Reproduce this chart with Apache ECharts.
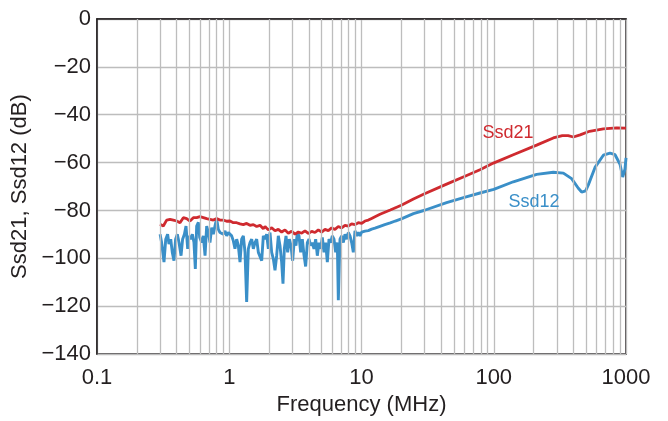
<!DOCTYPE html>
<html>
<head>
<meta charset="utf-8">
<script src="https://cdn.jsdelivr.net/npm/echarts@6/dist/echarts.min.js"></script>
<style>
html,body{margin:0;padding:0;background:#fff;}
#chart{width:668px;height:421px;}
</style>
</head>
<body>
<div id="chart"></div>
<script>
// ---- data ----
const xTickLabels = ['0.1', '1', '10', '100', '1000'];
const minorGridFreq = [0.2,0.3,0.4,0.5,0.6,0.7,0.8,0.9,2,3,4,5,6,7,8,9,20,30,40,50,60,70,80,90,200,300,400,500,600,700,800,900];

const ssd21Freq = [0.2995,0.3173,0.3363,0.3565,0.3777,0.4003,0.4242,0.4495,0.4764,0.5048,0.535,0.5669,0.6008,0.6368,0.6748,0.7151,0.7578,0.8031,0.8511,0.902,0.9559,1.013,1.074,1.138,1.206,1.278,1.354,1.435,1.521,1.612,1.708,1.81,
  1.864,1.975,2.093,2.218,2.35,2.49,2.639,2.797,2.964,3.141,3.329,3.528,3.738,3.962,4.199,4.449,4.715,4.997,5.296,5.612,5.947,6.303,6.679,7.078,7.501,7.949,8.424,8.927,9.461,10.03,10.62,11.26,11.93,12.65,
  13.8,16.5,20,24.7,30,44,60,78.7,99.4,140.6,211,282,330,365,400,450,530,674,850,1000];
const ssd21Val = [-85.8,-86.5,-84.0,-83.7,-84.0,-84.4,-85.1,-83.0,-83.4,-84.4,-83.0,-83.0,-82.6,-83.0,-83.4,-83.7,-84.0,-83.4,-84.0,-84.0,-84.5,-84.4,-85.1,-85.1,-85.6,-85.9,-85.4,-86.2,-85.9,-86.7,-86.2,-87.6,
  -86.7,-88.1,-87.2,-88.5,-87.9,-89.0,-88.1,-89.5,-88.7,-89.9,-89.0,-89.5,-88.5,-89.6,-88.7,-89.2,-88.1,-89.0,-87.9,-88.4,-87.3,-87.9,-86.7,-87.3,-86.2,-86.5,-85.6,-85.9,-85.1,-85.4,-84.4,-84.0,-83.3,-82.6,
  -81.6,-79.8,-77.8,-75.2,-73.0,-69.0,-65.8,-63.0,-60.2,-56.7,-52.7,-49.7,-48.7,-48.7,-49.3,-48.4,-46.9,-45.9,-45.5,-45.6];

const ssd12Freq = [0.300,0.308,0.321,0.331,0.342,0.350,0.361,0.371,0.382,0.393,0.405,0.417,0.432,0.444,0.458,0.471,0.485,0.496,0.511,0.526,0.541,0.554,0.567,0.584,0.598,0.619,0.637,0.656,0.675,0.695,0.715,0.736,0.758,0.780,0.803,0.827,0.851,0.876,0.902,0.929,0.956,0.984,
  1.013,1.043,1.074,1.105,1.138,1.171,1.206,1.241,1.278,1.316,1.354,1.394,1.435,1.478,1.521,1.566,1.612,1.660,1.759,1.810,1.864,1.918,1.975,2.033,2.093,2.154,2.218,2.283,2.350,2.419,2.490,2.549,2.609,2.686,2.765,2.847,2.930,
  3.016,3.105,3.196,3.272,3.368,3.467,3.569,3.674,3.782,3.894,4.009,4.127,4.248,4.373,4.502,4.634,4.771,4.911,5.056,5.205,5.358,5.516,5.678,5.845,6.017,6.194,6.377,6.564,6.680,6.877,7.079,7.288,7.502,7.723,7.950,8.185,8.425,8.673,8.929,9.192,9.462,9.741,
  10.03,10.63,11.26,11.94,12.65,13.8,15.0,16.5,18.0,20.0,24.7,30.0,44.0,60.0,78.7,100,140.6,211,282,336,388,436,462,476,495,519,583,674,757,826,901,944,982,1000];
const ssd12Val = [-89.9,-93.4,-101.6,-92.0,-89.9,-94.0,-92.0,-97.5,-101.0,-92.0,-89.9,-93.4,-98.9,-92.0,-89.9,-86.5,-96.0,-90.6,-92.0,-89.9,-93.4,-104.4,-86.5,-85.0,-91.3,-93.4,-90.6,-98.9,-86.5,-89.2,-93.4,-87.2,-89.9,-86.5,-83.4,-87.9,-89.2,-88.5,-89.9,-88.5,-90.6,-89.2,
  -89.9,-90.6,-92.7,-96.0,-92.0,-94.7,-101.6,-92.0,-90.6,-97.5,-118.2,-96.0,-93.4,-92.0,-96.0,-93.4,-92.0,-97.5,-101.0,-90.6,-92.0,-89.9,-96.0,-89.2,-97.5,-100.2,-105.0,-98.9,-90.6,-94.7,-101.6,-110.6,-96.0,-90.6,-97.5,-92.0,-94.7,
  -101.0,-92.0,-94.7,-89.2,-90.6,-97.5,-92.0,-98.6,-103.4,-93.4,-92.0,-94.7,-93.4,-96.0,-92.0,-98.9,-93.4,-96.0,-91.3,-97.5,-93.4,-101.6,-92.0,-93.4,-90.6,-92.0,-97.5,-93.4,-117.5,-92.0,-90.6,-93.4,-89.9,-92.0,-89.2,-90.6,-93.4,-97.5,-88.5,-90.6,-89.2,-90.6,
  -89.0,-88.6,-88.4,-87.8,-87.4,-86.6,-85.9,-85.2,-84.4,-83.5,-81.3,-79.9,-76.7,-74.5,-72.7,-71.2,-68.0,-64.9,-64.0,-64.4,-66.7,-70.7,-72.3,-73.1,-71.8,-69.3,-62.0,-56.9,-56.0,-56.7,-60.7,-66.0,-62.7,-58.0];

function pairs(f, v) { return f.map((x, i) => [x, v[i]]); }

const TEXT = '#231f20';
const FONT = 'Liberation Sans, Arial, Helvetica, sans-serif';
const GRID = '#bdbdbd';

const chart = echarts.init(document.getElementById('chart'), null, {renderer: 'canvas'});
chart.setOption({
  animation: false,
  backgroundColor: '#fff',
  grid: {left: 97, right: 42, top: 19, bottom: 63, show: true, borderColor: TEXT, borderWidth: 1.5, backgroundColor: 'transparent'},
  xAxis: {
    type: 'log', logBase: 10, min: 0.1, max: 1000,
    name: 'Frequency (MHz)', nameLocation: 'middle', nameGap: 30,
    nameTextStyle: {color: TEXT, fontSize: 22, fontFamily: FONT},
    axisLine: {lineStyle: {color: TEXT, width: 1.5}},
    axisTick: {show: false},
    axisLabel: {color: TEXT, fontSize: 22, fontFamily: FONT, margin: 13,
      formatter: function (v) { const i = Math.round(Math.log10(v)) + 1; return xTickLabels[i] !== undefined ? xTickLabels[i] : ''; }},
    splitLine: {show: true, lineStyle: {color: GRID, width: 1.3}}
  },
  yAxis: {
    type: 'value', min: -140, max: 0, interval: 20,
    name: 'Ssd21, Ssd12 (dB)', nameLocation: 'middle', nameGap: 58, nameRotate: 90,
    nameTextStyle: {color: TEXT, fontSize: 22, fontFamily: FONT},
    axisLine: {show: true, lineStyle: {color: TEXT, width: 1.5}},
    axisTick: {show: false},
    axisLabel: {color: TEXT, fontSize: 22, fontFamily: FONT, margin: 6,
      formatter: function (v) { return String(v).replace('-', '\u2212'); }},
    splitLine: {show: true, lineStyle: {color: GRID, width: 1.3}}
  },
  series: [
    {
      type: 'line', name: 'grid', data: [], silent: true, z: 1,
      markLine: {
        silent: true, symbol: 'none', label: {show: false},
        lineStyle: {color: GRID, width: 1.3, type: 'solid'},
        data: minorGridFreq.map(f => ({xAxis: f}))
      }
    },
    {
      type: 'line', name: 'Ssd12', data: pairs(ssd12Freq, ssd12Val), showSymbol: false, z: 3,
      lineStyle: {color: '#3a8fc8', width: 2.9}, itemStyle: {color: '#3a8fc8'}
    },
    {
      type: 'line', name: 'Ssd21', data: pairs(ssd21Freq, ssd21Val), showSymbol: false, z: 4,
      lineStyle: {color: '#cf2a2f', width: 2.8}, itemStyle: {color: '#cf2a2f'}
    }
  ],
  graphic: [
    {type: 'text', x: 508, y: 133, z: 10, style: {text: 'Ssd21', fill: '#cf2a2f', font: '18px ' + FONT, align: 'center', verticalAlign: 'middle'}},
    {type: 'text', x: 534, y: 202, z: 10, style: {text: 'Ssd12', fill: '#3a8fc8', font: '18px ' + FONT, align: 'center', verticalAlign: 'middle'}}
  ]
});
</script>
</body>
</html>
